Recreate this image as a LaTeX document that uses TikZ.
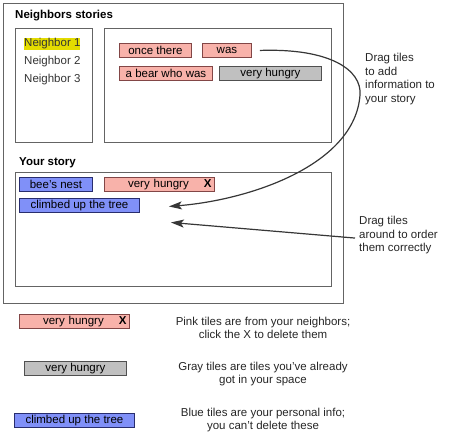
\documentclass[tikz,border=0pt]{standalone}
\usepackage{fontspec}
\setmainfont{Liberation Sans}
\usetikzlibrary{positioning}
\usetikzlibrary{arrows.meta}

\definecolor{pinkfill}{RGB}{248,178,170}
\definecolor{pinkline}{RGB}{130,70,70}
\definecolor{grayfill}{RGB}{192,192,192}
\definecolor{grayline}{RGB}{80,80,80}
\definecolor{bluefill}{RGB}{128,144,248}
\definecolor{blueline}{RGB}{40,45,110}
\definecolor{hilite}{RGB}{228,220,0}
\definecolor{panelline}{RGB}{100,100,100}
\definecolor{arrowline}{RGB}{55,55,55}

\tikzset{
  tile/.style={draw, line width=0.9pt, anchor=north west, minimum height=14pt,
    inner ysep=0pt, inner xsep=2pt, font=\fontsize{11.5}{13.5}\selectfont},
  pinktile/.style={tile, fill=pinkfill, draw=pinkline},
  graytile/.style={tile, fill=grayfill, draw=grayline},
  bluetile/.style={tile, fill=bluefill, draw=blueline},
  xtile/.style={pinktile, text width=104pt, align=right, inner xsep=3pt},
  panel/.style={draw=panelline, line width=0.8pt},
  header/.style={anchor=west, inner sep=0pt, font=\fontsize{11.5}{13.5}\selectfont\bfseries},
  neighbor/.style={anchor=west, inner sep=0pt, minimum height=12pt, text=black!80,
    font=\fontsize{11.5}{13.5}\selectfont},
  note/.style={inner sep=0pt, text=black!85, font=\fontsize{11.5}{13.5}\selectfont},
  dragarrow/.style={draw=arrowline, line width=1.2pt,
    -{Stealth[length=13pt,width=8pt,inset=3pt]}}
}

\begin{document}
\begin{tikzpicture}[x=1pt,y=-1pt]
\useasboundingbox (0,0) rectangle (450,433);

% panels
\draw[panel] (3,3) rectangle (343,303);
\draw[panel] (15,28) rectangle (92,142);
\draw[panel] (104,28) rectangle (331,142);
\draw[panel] (15,172) rectangle (331,286);

\node[header] (nbhead) at (15,16) {Neighbors stories};
\node[header] (storyhead) at (19,163) {Your story};

% neighbor list
\node[neighbor, fill=hilite] (nbone) at (24,44) {Neighbor 1};
\node[neighbor] (nbtwo) at (24,62) {Neighbor 2};
\node[neighbor] (nbthree) at (24,80) {Neighbor 3};

% neighbor tiles
\node[pinktile, minimum width=72pt] (once) at (119,43) {once there};
\node[pinktile, minimum width=49pt] (was) at (202,43) {was};
\node[pinktile, minimum width=93pt] (bear) at (119,66) {a bear who was};
\node[graytile, minimum width=102pt] (hungrygray) at (219,66) {very hungry};

% your story tiles
\node[bluetile, minimum width=73pt] (bees) at (19,177) {bee's nest};
\node[xtile] (hungrypink) at (104,177) {very hungry\hspace{15pt}\textbf{X}};
\node[bluetile, minimum width=120pt] (climb) at (19,198) {climbed up the tree};

% notes
\node[note, anchor=north west, align=left] (addnote) at (365,53)
  {Drag tiles\\to add\\information to\\your story};
\node[note, anchor=north west, align=left] (ordernote) at (359,216)
  {Drag tiles\\around to order\\them correctly};

\coordinate (addfrom) at ([xshift=8pt]was.east);
\coordinate (addto) at ([xshift=29pt,yshift=-1pt]climb.east);
\coordinate (orderfrom) at ([xshift=-4pt,yshift=-3pt]ordernote.west);
\coordinate (orderto) at ([xshift=31pt,yshift=-17pt]climb.east);

\draw[dragarrow] (addfrom) .. controls (330,48) and (362,70) .. (360,95)
  .. controls (355,165) and (250,200) .. (addto);
\draw[dragarrow] (orderfrom) -- (orderto);

% legend
\node[xtile] (keypink) at (19,314) {very hungry\hspace{15pt}\textbf{X}};
\node[graytile, minimum width=102pt] (keygray) at (24,361) {very hungry};
\node[bluetile, minimum width=120pt] (keyblue) at (14,413) {climbed up the tree};

\node[note, align=center] (pinknote) at (263,328)
  {Pink tiles are from your neighbors;\\click the X to delete them};
\node[note, align=center] (graynote) at (263,374)
  {Gray tiles are tiles you've already\\got in your space};
\node[note, align=center] (bluenote) at (263,420)
  {Blue tiles are your personal info;\\you can't delete these};
\end{tikzpicture}
\end{document}
